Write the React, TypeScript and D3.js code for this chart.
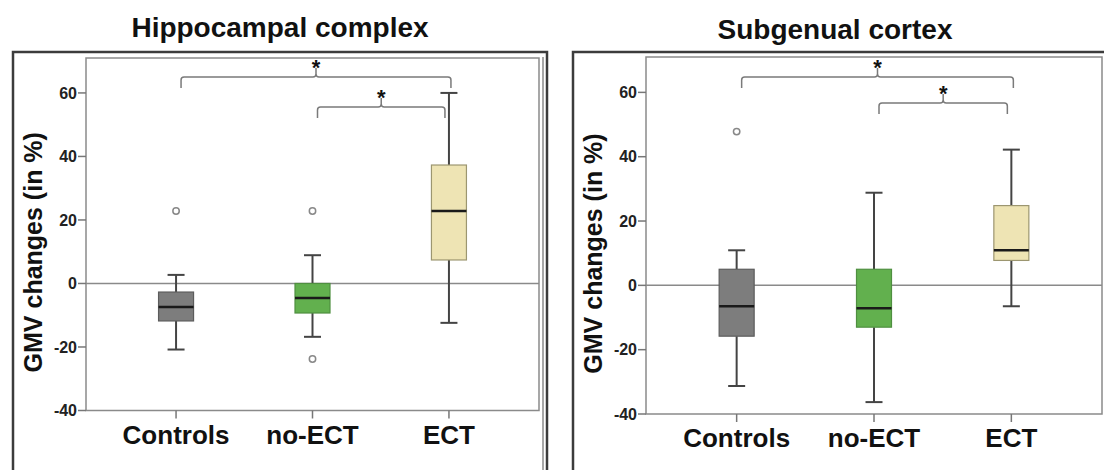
import React from 'react';
import * as d3 from 'd3';

// groups on the x axis
const categories = ['Controls', 'no-ECT', 'ECT'];
const yTicks = [-40, -20, 0, 20, 40, 60];

// box stats per group: [lower whisker, q1, median, q3, upper whisker]
const hippoBoxes = [
    [-20.8, -11.8, -7.4, -2.7, 2.7],
    [-16.8, -9.3, -4.6, 0, 8.9],
    [-12.4, 7.4, 22.8, 37.3, 60],
];
const hippoOutliers = [[22.8], [22.8, -23.8], []];
const hippoBrackets = [
    {from: 0, to: 2, y: 65},
    {from: 1, to: 2, y: 55.6},
];

const subgenBoxes = [
    [-31.3, -15.8, -6.5, 5.0, 10.9],
    [-36.3, -13.0, -7.1, 5.0, 28.8],
    [-6.5, 7.75, 10.9, 24.8, 42.2],
];
const subgenOutliers = [[47.8], [], []];
const subgenBrackets = [
    {from: 0, to: 2, y: 64.8},
    {from: 1, to: 2, y: 56.7},
];

const fills = ['#7d7d7d', '#62b04e', '#eee4b4'];
const strokes = ['#5c5c5c', '#4f8f40', '#9c9670'];

const FONT = '"Liberation Sans", Arial, sans-serif';

const Panel = ({title, boxes, outliers, brackets, frame, plot, titleX, titleY, doubleRight}) => {
    const x = d3.scalePoint().domain(categories).range([plot.left, plot.right]).padding(0.66);
    const y = d3.scaleLinear().domain([-40, 71]).range([plot.bottom, plot.top]);
    const boxW = 35;
    const capW = 17;

    const bracketPath = (x1, x2, yy) => {
        const mid = (x1 + x2) / 2;
        const r = 3;
        const drop = 11;
        return `M${x1},${yy + drop} L${x1},${yy + r} Q${x1},${yy} ${x1 + r},${yy} L${mid - r},${yy} Q${mid},${yy} ${mid},${yy - r} L${mid},${yy - 9}` +
            ` M${mid},${yy - r} Q${mid},${yy} ${mid + r},${yy} L${x2 - r},${yy} Q${x2},${yy} ${x2},${yy + r} L${x2},${yy + drop}`;
    };

    return (
        <g>
            <text x={titleX} y={titleY} textAnchor="middle" fontFamily={FONT} fontWeight="bold" fontSize={28} fill="#111">{title}</text>
            {/* outer frame */}
            <rect x={frame.left} y={frame.top} width={frame.right - frame.left} height={frame.bottom - frame.top}
                  fill="none" stroke="#3c3c3c" strokeWidth={2.5}/>
            {/* plot frame */}
            <rect x={plot.left} y={plot.top} width={plot.right - plot.left} height={plot.bottom - plot.top}
                  fill="none" stroke="#8a8a8a" strokeWidth={1.5}/>
            {doubleRight && <line x1={plot.right + 4} x2={plot.right + 4} y1={plot.top - 1} y2={frame.bottom}
                                  stroke="#8a8a8a" strokeWidth={1.5}/>}
            {/* zero line */}
            <line x1={plot.left} x2={plot.right} y1={y(0)} y2={y(0)} stroke="#8a8a8a" strokeWidth={1.5}/>

            {/* y axis */}
            {yTicks.map(t => (
                <g key={t}>
                    <line x1={plot.left - 8} x2={plot.left} y1={y(t)} y2={y(t)} stroke="#777" strokeWidth={1.5}/>
                    <text x={plot.left - 9} y={y(t)} dy="0.36em" textAnchor="end" fontFamily={FONT}
                          fontWeight="bold" fontSize={16} fill="#222">{t}</text>
                </g>
            ))}
            <text transform={`translate(${frame.left + 29},${(plot.top + plot.bottom) / 2 + 18}) rotate(-90)`}
                  textAnchor="middle" fontFamily={FONT} fontWeight="bold" fontSize={25} fill="#111">GMV changes (in %)</text>

            {/* x axis */}
            {categories.map(c => (
                <g key={c}>
                    <line x1={x(c)} x2={x(c)} y1={plot.bottom} y2={plot.bottom + 8} stroke="#777" strokeWidth={1.5}/>
                    <text x={x(c)} y={plot.bottom + 33} textAnchor="middle" fontFamily={FONT} fontWeight="bold"
                          fontSize={26} fill="#111">{c}</text>
                </g>
            ))}

            {/* boxes */}
            {boxes.map((b, i) => {
                const cx = x(categories[i]);
                const [lo, q1, med, q3, hi] = b;
                return (
                    <g key={i}>
                        <line x1={cx} x2={cx} y1={y(hi)} y2={y(q3)} stroke="#444" strokeWidth={2}/>
                        <line x1={cx} x2={cx} y1={y(q1)} y2={y(lo)} stroke="#444" strokeWidth={2}/>
                        <line x1={cx - capW / 2} x2={cx + capW / 2} y1={y(hi)} y2={y(hi)} stroke="#444" strokeWidth={2}/>
                        <line x1={cx - capW / 2} x2={cx + capW / 2} y1={y(lo)} y2={y(lo)} stroke="#444" strokeWidth={2}/>
                        <rect x={cx - boxW / 2} y={y(q3)} width={boxW} height={y(q1) - y(q3)}
                              fill={fills[i]} stroke={strokes[i]} strokeWidth={1.2}/>
                        <line x1={cx - boxW / 2} x2={cx + boxW / 2} y1={y(med)} y2={y(med)} stroke="#1a1a1a" strokeWidth={2.5}/>
                        {outliers[i].map((o, j) => (
                            <circle key={j} cx={cx} cy={y(o)} r={3.2} fill="#fff" stroke="#888" strokeWidth={1.5}/>
                        ))}
                    </g>
                );
            })}

            {/* significance brackets */}
            {brackets.map((br, i) => {
                const x1 = x(categories[br.from]) + 5;
                const x2 = x(categories[br.to]) + (br.from === 0 ? 2 : -4);
                const yy = y(br.y);
                return (
                    <g key={i}>
                        <path d={bracketPath(x1, x2, yy)} fill="none" stroke="#7a7a7a" strokeWidth={1.5}/>
                        <text x={(x1 + x2) / 2} y={yy - 2} textAnchor="middle" fontFamily={FONT} fontWeight="bold"
                              fontSize={22} fill="#111">*</text>
                    </g>
                );
            })}
        </g>
    );
};

const App = () => {
    return (
        <svg width={1104} height={470} style={{position: 'absolute', left: 0, top: 0, background: '#fff'}}>
            <rect width={1104} height={470} fill="#fff"/>
            <Panel title="Hippocampal complex" boxes={hippoBoxes} outliers={hippoOutliers} brackets={hippoBrackets}
                   frame={{left: 13, right: 547, top: 52, bottom: 480}}
                   plot={{left: 86, right: 539, top: 58, bottom: 410.5}}
                   titleX={280} titleY={37} doubleRight={true}/>
            <Panel title="Subgenual cortex" boxes={subgenBoxes} outliers={subgenOutliers} brackets={subgenBrackets}
                   frame={{left: 573, right: 1112, top: 52, bottom: 480}}
                   plot={{left: 646, right: 1102, top: 57, bottom: 414}}
                   titleX={835} titleY={39} doubleRight={false}/>
        </svg>
    );
};

export default App;
